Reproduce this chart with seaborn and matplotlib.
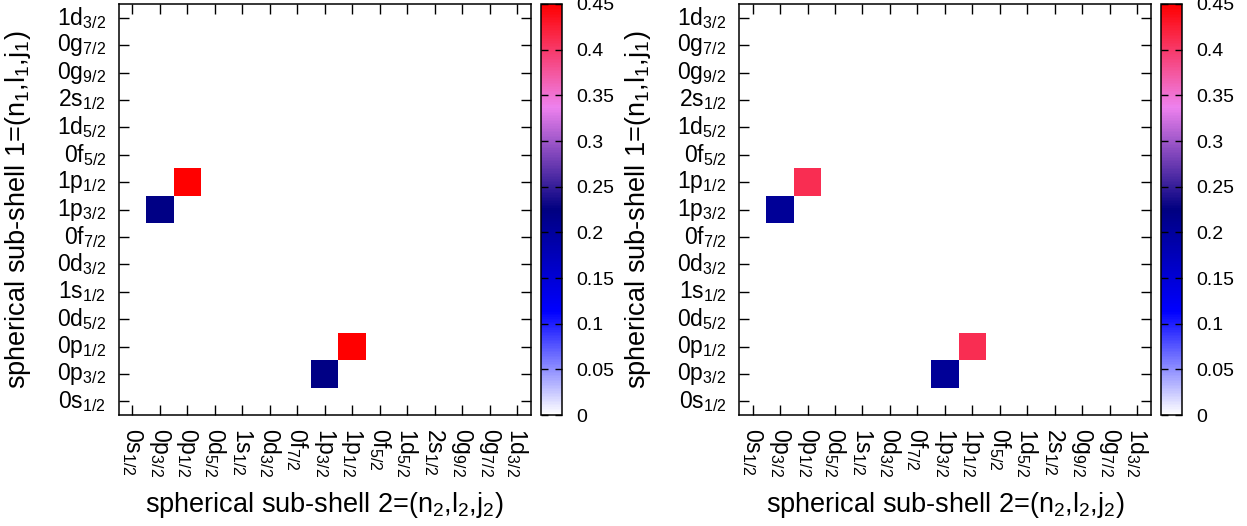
import numpy as np
import pandas as pd
import matplotlib
matplotlib.use("Agg")
import matplotlib.pyplot as plt
import seaborn as sns
from matplotlib.colors import LinearSegmentedColormap
from matplotlib.ticker import FormatStrFormatter

# Spherical sub-shells, from bottom to top (y) and left to right (x)
shells = ["0s_{1/2}", "0p_{3/2}", "0p_{1/2}", "0d_{5/2}", "1s_{1/2}",
          "0d_{3/2}", "0f_{7/2}", "1p_{3/2}", "1p_{1/2}", "0f_{5/2}",
          "1d_{5/2}", "2s_{1/2}", "0g_{9/2}", "0g_{7/2}", "1d_{3/2}"]

# Non-zero cells of the left panel: sub-shell 1 (row), sub-shell 2 (column), value
left_rows = ["1p_{3/2}", "1p_{1/2}", "0p_{3/2}", "0p_{1/2}"]
left_cols = ["0p_{3/2}", "0p_{1/2}", "1p_{3/2}", "1p_{1/2}"]
left_vals = [0.22, 0.45, 0.22, 0.45]

# Non-zero cells of the right panel
right_rows = ["1p_{3/2}", "1p_{1/2}", "0p_{3/2}", "0p_{1/2}"]
right_cols = ["0p_{3/2}", "0p_{1/2}", "1p_{3/2}", "1p_{1/2}"]
right_vals = [0.205, 0.41, 0.205, 0.41]

cbar_ticks = [0, 0.05, 0.1, 0.15, 0.2, 0.25, 0.3, 0.35, 0.4, 0.45]

# Styles
sns.set_style("white")
plt.rcParams["font.family"] = ["Liberation Sans", "DejaVu Sans"]
plt.rcParams["mathtext.fontset"] = "custom"
plt.rcParams["mathtext.rm"] = "Liberation Sans"
plt.rcParams["mathtext.it"] = "Liberation Sans:italic"
plt.rcParams["axes.axisbelow"] = False  # ticks must sit on top of the cells
for key in ["text.color", "axes.labelcolor", "xtick.color", "ytick.color"]:
    plt.rcParams[key] = "black"

cmap = LinearSegmentedColormap.from_list(
    "wbnvr", [(0, "white"), (0.25, "blue"), (0.5, "navy"), (0.75, "violet"), (1, "red")])


def tex(s):
    return r"$\mathregular{%s}$" % s


def build_matrix(rows, cols, vals):
    # rows are listed top to bottom as in the picture
    df = pd.DataFrame(0.0, index=shells[::-1], columns=shells)
    for r, c, v in zip(rows, cols, vals):
        df.loc[r, c] = v
    return df


def draw_panel(ax, cax, df):
    sns.heatmap(df, ax=ax, cbar_ax=cax, cmap=cmap, vmin=0, vmax=0.45,
                xticklabels=[tex(s) for s in shells],
                yticklabels=[tex(s) for s in shells[::-1]],
                cbar_kws={"ticks": cbar_ticks})

    # gnuplot-like frame with inward ticks on all sides
    ax.set_axisbelow(False)
    for spine in ax.spines.values():
        spine.set_visible(True)
        spine.set_linewidth(1.1)
        spine.set_color("black")
    ax.tick_params(direction="in", bottom=True, left=True, top=True, right=True,
                   length=7, width=1, labelsize=16.5, pad=9, color="black")
    ax.set_xticklabels(ax.get_xticklabels(), rotation=-90, va="top", ha="center")
    ax.set_yticklabels(ax.get_yticklabels(), rotation=0)

    ax.set_xlabel(r"spherical sub-shell 2=(n$_2$,l$_2$,j$_2$)", fontsize=19.5, va="center")
    ax.set_ylabel(r"spherical sub-shell 1=(n$_1$,l$_1$,j$_1$)", fontsize=19.5, va="center")
    ax.xaxis.set_label_coords(0.5, -0.22)
    ax.yaxis.set_label_coords(-0.245, 0.5)

    # Colorbar
    cbar = ax.collections[0].colorbar
    cbar.outline.set_linewidth(1.1)
    cbar.outline.set_edgecolor("black")
    cax.set_axisbelow(False)
    cax.yaxis.set_major_formatter(FormatStrFormatter("%g"))
    cax.tick_params(direction="in", left=True, right=True, length=5, width=1,
                    labelsize=14, pad=10, color="black")


fig = plt.figure(figsize=(12.47, 5.26), dpi=100)

ax_left = fig.add_axes([0.0952, 0.2110, 0.3304, 0.7814])
cax_left = fig.add_axes([0.4336, 0.2110, 0.0171, 0.7814])
ax_right = fig.add_axes([0.5925, 0.2110, 0.3304, 0.7814])
cax_right = fig.add_axes([0.9310, 0.2110, 0.0171, 0.7814])

draw_panel(ax_left, cax_left, build_matrix(left_rows, left_cols, left_vals))
draw_panel(ax_right, cax_right, build_matrix(right_rows, right_cols, right_vals))

fig.savefig("out.png", dpi=100)
